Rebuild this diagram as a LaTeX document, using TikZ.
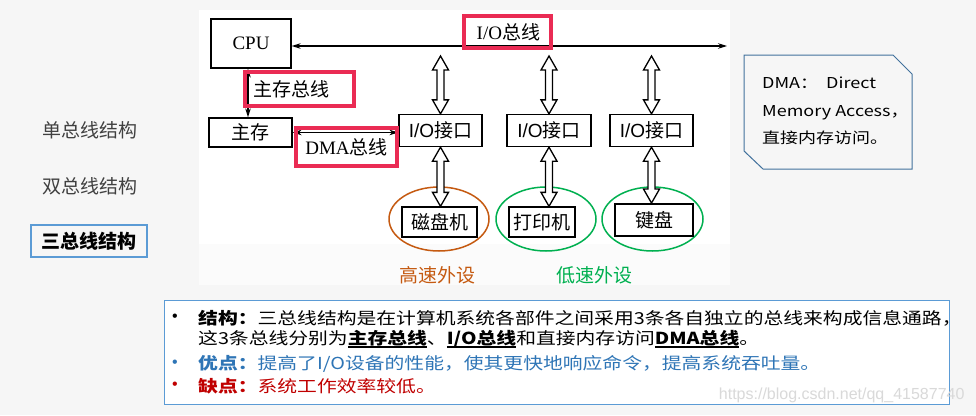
\documentclass[tikz,border=0pt]{standalone}
\usepackage{fontspec}
\setmainfont{Liberation Serif}
\newfontfamily\cjk{Noto Sans CJK SC}
\newfontfamily\cjkw[FakeStretch=1.2]{Noto Sans CJK SC}
\newfontfamily\arial{Liberation Sans}
\usetikzlibrary{calc,arrows.meta}
\definecolor{pagebg}{RGB}{246,246,246}
\definecolor{hotred}{RGB}{234,43,84}
\definecolor{rustorange}{RGB}{197,90,17}
\definecolor{fieldgreen}{RGB}{0,176,80}
\definecolor{tabblue}{RGB}{91,155,213}
\definecolor{noteedge}{RGB}{65,113,156}
\definecolor{probblue}{RGB}{46,117,182}
\definecolor{conred}{RGB}{192,0,0}
\definecolor{darktext}{RGB}{64,64,64}
\def\enrm#1{{\rmfamily #1}}
\def\enss#1{{\arial #1}}
\def\ulbold#1{\setbox0\hbox{\bfseries #1}\rlap{\rule[-3.5pt]{\wd0}{1.6pt}}\box0}
\def\hollowarrow(#1)(#2){\draw[hollow] let \p1=(#1), \p2=(#2) in (\x1,\y1) -- (\x1+8pt,\y1-14pt) -- (\x1+3.5pt,\y1-14pt) -- (\x1+3.5pt,\y2+14pt) -- (\x1+8pt,\y2+14pt) -- (\x1,\y2) -- (\x1-8pt,\y2+14pt) -- (\x1-3.5pt,\y2+14pt) -- (\x1-3.5pt,\y1-14pt) -- (\x1-8pt,\y1-14pt) -- cycle;}

\begin{document}
\begin{tikzpicture}[x=1pt,y=-1pt,
		box/.style={draw, line width=1.3pt, inner sep=0pt, font=\cjk\fontsize{19}{21}\selectfont},
		redbox/.style={draw=hotred, line width=3.2pt, inner sep=0pt, font=\cjk\fontsize{19}{21}\selectfont},
		bus/.style={line width=1.1pt, {Stealth[length=9pt,width=5.5pt]}-{Stealth[length=9pt,width=5.5pt]}},
		hollow/.style={draw, line width=1.3pt, fill=white, line join=miter},
		devring/.style={line width=1.5pt},
		sidelabel/.style={font=\cjk\fontsize{19}{21}\selectfont, text=darktext},
		pointtext/.style={anchor=west, inner sep=0pt, font=\cjkw\fontsize{16.5}{20}\selectfont},
		dot/.style={inner sep=0pt, font=\arial\fontsize{16}{18}\selectfont}]
		%%%%% START %%%%%
		
		\useasboundingbox (0,0) rectangle (976,415);
		\fill[pagebg] (0,0) rectangle (976,415);
		\fill[white] (199,10) rectangle (730,244);
		\fill[white!55!pagebg] (199,244) rectangle (730,285);
		
		\node[sidelabel] (single) at (90,130) {单总线结构};
		\node[sidelabel] (dual) at (90,186) {双总线结构};
		\node[draw=tabblue, line width=2.5pt, minimum width=116, minimum height=32, font=\cjk\bfseries\fontsize{19}{21}\selectfont] (triple) at (89,241) {三总线结构};
		
		\node[box, minimum width=80, minimum height=49] (cpu) at (251,43.5) {\enrm{CPU}};
		\node[box, minimum width=83, minimum height=29] (mem) at (250.5,132.5) {主存};
		\node[box, minimum width=83, minimum height=32] (io1) at (440.5,130.5) {\enss{I/O}接口};
		\node[box, minimum width=84, minimum height=32] (io2) at (549,130.5) {\enss{I/O}接口};
		\node[box, minimum width=83, minimum height=32] (io3) at (651.5,130.5) {\enss{I/O}接口};
		
		\coordinate (busend) at (727,46);
		\draw[bus] (cpu.east |- busend) -- (busend);
		\draw[bus] ([xshift=-3pt]cpu.south) -- ([xshift=-3pt]cpu.south |- mem.north);
		\draw[bus] (mem.east) -- (mem.east -| io1.west);
		
		\draw[devring, draw=rustorange] (439,219) ellipse [x radius=50pt, y radius=32pt];
		\draw[devring, draw=fieldgreen] (546,219) ellipse [x radius=50pt, y radius=32pt];
		\draw[devring, draw=fieldgreen] (652.5,219) ellipse [x radius=50.5pt, y radius=32pt];
		
		\node[box, minimum width=75, minimum height=30] (disk) at (439.5,222) {磁盘机};
		\node[box, minimum width=66, minimum height=30] (printer) at (542,222) {打印机};
		\node[box, line width=1.9pt, minimum width=78, minimum height=32] (kbd) at (654,220) {键盘};
		
		\coordinate (tap1) at (io1.north |- 0,56);
		\coordinate (tap2) at (io2.north |- 0,56);
		\coordinate (tap3) at (io3.north |- 0,56);
		\hollowarrow(tap1)(io1.north)
		\hollowarrow(tap2)(io2.north)
		\hollowarrow(tap3)(io3.north)
		\hollowarrow(io1.south)(io1.south |- disk.north)
		\hollowarrow(io2.south)(io2.south |- printer.north)
		\hollowarrow(io3.south)(io3.south |- kbd.north)
		
		\node[redbox, minimum height=32, text width=65pt, align=right, inner xsep=11pt] (iolabel) at (507.5,32) {\enrm{I/O}总线};
		\node[redbox, minimum height=34, text width=93pt, align=left, inner xsep=8pt] (memlabel) at (299.5,89) {主存总线};
		\node[redbox, minimum width=101, minimum height=38] (dmalabel) at (346.5,147) {\enrm{DMA}总线};
		
		\node[font=\cjk\fontsize{19}{21}\selectfont, text=rustorange] (fastlabel) at (437,275) {高速外设};
		\node[font=\cjk\fontsize{19}{21}\selectfont, text=fieldgreen] (slowlabel) at (594,275) {低速外设};
		
		% DMA note
		\draw[noteedge, line width=1pt, fill=pagebg] (744,55) -- (893,55) -- (912,74) -- (912,169) -- (763,169) -- (744,151) -- cycle;
		\node[font=\cjkw\fontsize{15}{27.5}\selectfont, align=left, anchor=west, inner sep=0pt] (dmanote) at (762,111) {DMA：\ \ Direct\\Memory Access，\\直接内存访问。};
		
		% summary
		\draw[tabblue, line width=1pt, fill=white] (164,300) rectangle (949,404);
		\node[dot] (dot1) at (175,318) {•};
		\node[dot, text=probblue] (dot3) at (175,364) {•};
		\node[dot, text=conred] (dot4) at (175,386) {•};
		\node[pointtext] (line1) at (198,318) {{\bfseries 结构：}三总线结构是在计算机系统各部件之间采用3条各自独立的总线来构成信息通路，};
		\node[pointtext] (line2) at (198,339) {这3条总线分别为\ulbold{主存总线}、\ulbold{I/O总线}和直接内存访问\ulbold{DMA总线}。};
		\node[pointtext, text=probblue] (line3) at (198,364) {{\bfseries 优点：}提高了I/O设备的性能，使其更快地响应命令，提高系统吞吐量。};
		\node[pointtext, text=conred] (line4) at (198,386) {{\bfseries 缺点：}系统工作效率较低。};
		
		\node[anchor=east, font=\arial\fontsize{16}{18}\selectfont, text=gray!30] (mark) at (968,395) {https://blog.csdn.net/qq\_41587740};
		
		%%%%% END %%%%%
	\end{tikzpicture}
\end{document}
